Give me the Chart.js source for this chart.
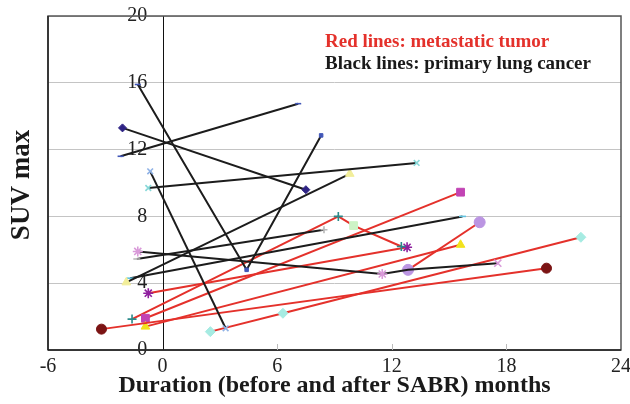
<!DOCTYPE html>
<html>
<head>
<meta charset="utf-8">
<script src="https://cdn.jsdelivr.net/npm/chart.js@4.4.0/dist/chart.umd.min.js"></script>
<style>
  html, body { margin: 0; padding: 0; background: #fff; }
  #wrap { width: 630px; height: 404px; }
</style>
</head>
<body>
<div id="wrap"><canvas id="chart"></canvas></div>
<script>
// Axis ticks
const xTicks = [-6, 0, 6, 12, 18, 24];
const yTicks = [0, 4, 8, 12, 16, 20];

// Black lines: primary lung cancer  [months, SUVmax]
const lung1 = [[-2.2, 11.6], [7.1, 14.75]];
const lung2 = [[-2.1, 13.3], [7.5, 9.6]];
const lung3 = [[-1.3, 15.9], [4.4, 4.8], [8.3, 12.85]];
const lung4 = [[-0.65, 10.7], [3.3, 1.3]];
const lung5 = [[-0.75, 9.7], [13.3, 11.2]];
const lung6 = [[-1.9, 4.05], [9.8, 10.55]];
const lung7 = [[-1.7, 4.3], [15.7, 8.0]];
const lung8 = [[-1.35, 5.45], [8.45, 7.2]];
const lung9 = [[-1.3, 5.9], [11.5, 4.55], [12.85, 4.8], [17.55, 5.2]];

// Red lines: metastatic tumor
const met1 = [[-3.2, 1.25], [20.1, 4.9]];
const met2 = [[-0.9, 1.4], [15.6, 6.3]];
const met3 = [[-0.9, 1.9], [15.6, 9.45]];
const met4 = [[-1.6, 1.85], [9.2, 8.0], [10.0, 7.45], [12.5, 6.2]];
const met5 = [[-0.75, 3.4], [12.8, 6.15]];
const met6 = [[2.5, 1.1], [6.3, 2.2], [21.9, 6.75]];
const met7 = [[12.85, 4.8], [16.6, 7.65]];

const RED = '#e4312b';
const BLACK = '#1c1c1c';

// marker looks: [pointStyle, colour, radius]
const navyDash = ['line', '#4257b8', 3];
const navyDiamond = ['rectRot', '#2e2384', 4];
const blueSquare = ['rect', '#4257b8', 2.5];
const blueX = ['crossRot', '#8fb2e6', 4];
const cyanX = ['crossRot', '#86d8d8', 4];
const paleTri = ['triangle', '#f2ee9a', 5];
const cyanDash = ['line', '#5fc2e0', 3.5];
const grayDash = ['line', '#b8b8b8', 3.5];
const grayPlus = ['cross', '#b8b8b8', 3.5];
const pinkStar = ['star', '#d99ad9', 5];
const pinkX = ['crossRot', '#d99ad9', 5];
const none = ['circle', 'rgba(0,0,0,0)', 0];
const darkRedDot = ['circle', '#7b1414', 5];
const yellowTri = ['triangle', '#f2e21c', 5];
const magSquare = ['rect', '#c244b4', 5.5];
const tealPlus = ['cross', '#2a8a8a', 4.5];
const greenSquare = ['rect', '#cdf3c6', 5.5];
const purpleStar = ['star', '#8e1f9e', 5];
const cyanDiamond = ['rectRot', '#a6ebe2', 5];
const purpleDot = ['circle', '#bb95e2', 5.5];

function series(pts, lineColor, marks) {
  return {
    data: pts.map(p => ({ x: p[0], y: p[1] })),
    showLine: true,
    borderColor: lineColor,
    borderWidth: 2,
    pointStyle: marks.map(m => m[0]),
    pointBackgroundColor: marks.map(m => m[1]),
    pointBorderColor: marks.map(m => m[1]),
    pointBorderWidth: marks.map(m => (m[0] === 'line' || m[0].startsWith('cross') || m[0] === 'star') ? 1.6 : 1),
    pointRadius: marks.map(m => m[2]),
    pointHoverRadius: marks.map(m => m[2])
  };
}

const datasets = [
  series(lung1, BLACK, [navyDash, navyDash]),
  series(lung2, BLACK, [navyDiamond, navyDiamond]),
  series(lung3, BLACK, [navyDash, blueSquare, blueSquare]),
  series(lung4, BLACK, [blueX, blueX]),
  series(lung5, BLACK, [cyanX, cyanX]),
  series(lung6, BLACK, [paleTri, paleTri]),
  series(lung7, BLACK, [cyanDash, cyanDash]),
  series(lung8, BLACK, [grayDash, grayPlus]),
  series(lung9, BLACK, [pinkStar, pinkStar, none, pinkX]),
  series(met1, RED, [darkRedDot, darkRedDot]),
  series(met2, RED, [yellowTri, yellowTri]),
  series(met3, RED, [magSquare, magSquare]),
  series(met4, RED, [tealPlus, tealPlus, greenSquare, tealPlus]),
  series(met5, RED, [purpleStar, purpleStar]),
  series(met6, RED, [cyanDiamond, cyanDiamond, cyanDiamond]),
  series(met7, RED, [purpleDot, purpleDot])
];

// zero line, frame, inner x ticks, legend notes, y title
const decorations = {
  id: 'decorations',
  beforeDatasetsDraw(chart) {
    const { ctx, chartArea: a, scales } = chart;
    const x0 = Math.round(scales.x.getPixelForValue(0)) + 0.5;
    ctx.save();
    ctx.strokeStyle = '#111';
    ctx.lineWidth = 1;
    ctx.beginPath();
    ctx.moveTo(x0, a.top); ctx.lineTo(x0, a.bottom);
    ctx.stroke();
    ctx.restore();
  },
  afterDraw(chart) {
    const { ctx, chartArea: a, scales } = chart;
    ctx.save();
    ctx.strokeStyle = '#555';
    ctx.lineWidth = 1.5;
    ctx.strokeRect(a.left, a.top, a.right - a.left, a.bottom - a.top);
    ctx.strokeStyle = '#222';
    ctx.beginPath();
    ctx.moveTo(a.left, a.bottom); ctx.lineTo(a.right, a.bottom);
    ctx.moveTo(a.left, a.top); ctx.lineTo(a.left, a.bottom);
    ctx.stroke();
    ctx.strokeStyle = '#bbb';
    ctx.lineWidth = 1;
    xTicks.slice(1, -1).forEach(v => {
      if (v === 0) return;
      const x = Math.round(scales.x.getPixelForValue(v)) + 0.5;
      ctx.beginPath();
      ctx.moveTo(x, a.bottom - 6); ctx.lineTo(x, a.bottom);
      ctx.stroke();
    });
    ctx.font = 'bold 19px "Liberation Serif"';
    ctx.textBaseline = 'middle';
    ctx.textAlign = 'left';
    ctx.fillStyle = RED;
    ctx.fillText('Red lines: metastatic tumor', 325, 42);
    ctx.fillStyle = '#1a1a1a';
    ctx.fillText('Black lines: primary lung cancer', 325, 64);
    ctx.translate(22, 185);
    ctx.rotate(-Math.PI / 2);
    ctx.textAlign = 'center';
    ctx.font = 'bold 27px "Liberation Serif"';
    ctx.fillText('SUV max', 0, 0);
    ctx.restore();
  }
};

new Chart(document.getElementById('chart'), {
  type: 'scatter',
  data: { datasets },
  options: {
    responsive: true,
    maintainAspectRatio: false,
    animation: false,
    layout: { padding: { left: 48, right: 9, top: 16, bottom: 0 } },
    plugins: { legend: { display: false }, tooltip: { enabled: false } },
    scales: {
      x: {
        type: 'linear',
        min: -6, max: 24,
        afterBuildTicks: s => { s.ticks = xTicks.map(v => ({ value: v })); },
        afterFit: s => { s.height = 54; s.paddingRight = 9; },
        grid: { display: false, drawTicks: false },
        border: { display: false },
        ticks: { padding: 5, color: '#222', font: { family: 'Liberation Serif', size: 20 } },
        title: {
          display: true,
          text: 'Duration (before and after SABR) months',
          color: '#1a1a1a',
          padding: { top: 0, bottom: 4 },
          font: { family: 'Liberation Serif', size: 24, weight: 'bold' }
        }
      },
      y: {
        type: 'linear',
        axis: 'y',
        position: { x: -0.8 },
        min: 0, max: 20,
        afterBuildTicks: s => { s.ticks = yTicks.map(v => ({ value: v })); },
        grid: { color: '#c4c4c4', lineWidth: 1, drawTicks: false },
        border: { display: false },
        ticks: { padding: 0, color: '#222', font: { family: 'Liberation Serif', size: 20 } }
      }
    }
  },
  plugins: [decorations]
});
</script>
</body>
</html>
